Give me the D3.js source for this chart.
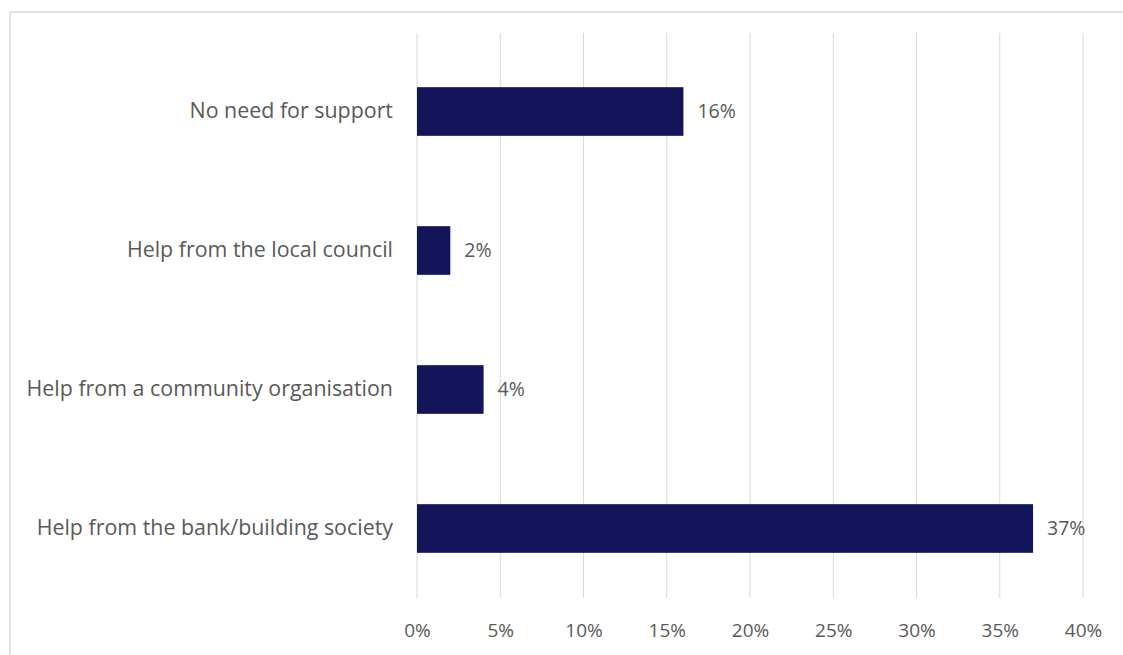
<!DOCTYPE html>
<html>
<head>
<meta charset="utf-8">
<script src="https://cdn.jsdelivr.net/npm/d3@7"></script>
<style>
  html, body { margin: 0; padding: 0; background: #fff; }
  svg { display: block; }
  text { font-family: "Open Sans", "Noto Sans", sans-serif; fill: #595959; }
</style>
</head>
<body>
<script>
// Support options and share of respondents (%)
const categories = [
  "No need for support",
  "Help from the local council",
  "Help from a community organisation",
  "Help from the bank/building society"
];
const values = [16, 2, 4, 37];
const tickValues = [0, 5, 10, 15, 20, 25, 30, 35, 40];

const width = 1123, height = 655;
const margin = { top: 42, right: 40, bottom: 57, left: 417 };

const svg = d3.select("body").append("svg")
  .attr("width", width)
  .attr("height", height);

// Chart frame edges
svg.append("line")
  .attr("x1", 10).attr("x2", width).attr("y1", 12).attr("y2", 12)
  .attr("stroke", "#d9d9d9").attr("stroke-width", 1.5);
svg.append("line")
  .attr("x1", 10).attr("x2", 10).attr("y1", 12).attr("y2", height)
  .attr("stroke", "#d9d9d9").attr("stroke-width", 1.5);

const x = d3.scaleLinear()
  .domain([0, 40])
  .range([margin.left, 1083]);

const y = d3.scaleBand()
  .domain(categories)
  .range([margin.top, height - margin.bottom])
  .paddingInner(0.65)
  .paddingOuter(0.325);

// Vertical gridlines
svg.append("g")
  .selectAll("line")
  .data(tickValues)
  .join("line")
  .attr("x1", d => x(d)).attr("x2", d => x(d))
  .attr("y1", 33).attr("y2", 598)
  .attr("stroke", "#d9d9d9").attr("stroke-width", 1);

// X axis tick labels
const xAxis = d3.axisBottom(x)
  .tickValues(tickValues)
  .tickFormat(d => d + "%")
  .tickSize(0)
  .tickPadding(0);
const gx = svg.append("g")
  .attr("transform", `translate(0, 623)`)
  .call(xAxis);
gx.select(".domain").remove();
gx.selectAll("text")
  .attr("font-size", 19)
  .attr("fill", "#595959")
  .attr("dy", "0.71em")
  .style("font-family", "'Open Sans', sans-serif");

// Category labels
const yAxis = d3.axisLeft(y).tickSize(0).tickPadding(24);
const gy = svg.append("g")
  .attr("transform", `translate(${margin.left}, 0)`)
  .call(yAxis);
gy.select(".domain").remove();
gy.selectAll("text")
  .attr("font-size", 21.4)
  .attr("fill", "#595959")
  .style("font-family", "'Open Sans', sans-serif");

// Bars
const data = categories.map((c, i) => ({ cat: c, v: values[i] }));
svg.append("g")
  .selectAll("rect")
  .data(data)
  .join("rect")
  .attr("x", x(0))
  .attr("y", d => y(d.cat))
  .attr("width", d => x(d.v) - x(0))
  .attr("height", y.bandwidth())
  .attr("fill", "#14145a");

// Value labels
svg.append("g")
  .selectAll("text")
  .data(data)
  .join("text")
  .attr("x", d => x(d.v) + 14)
  .attr("y", d => y(d.cat) + y.bandwidth() / 2)
  .attr("dy", "0.35em")
  .attr("font-size", 19.5)
  .text(d => d.v + "%");
</script>
</body>
</html>
